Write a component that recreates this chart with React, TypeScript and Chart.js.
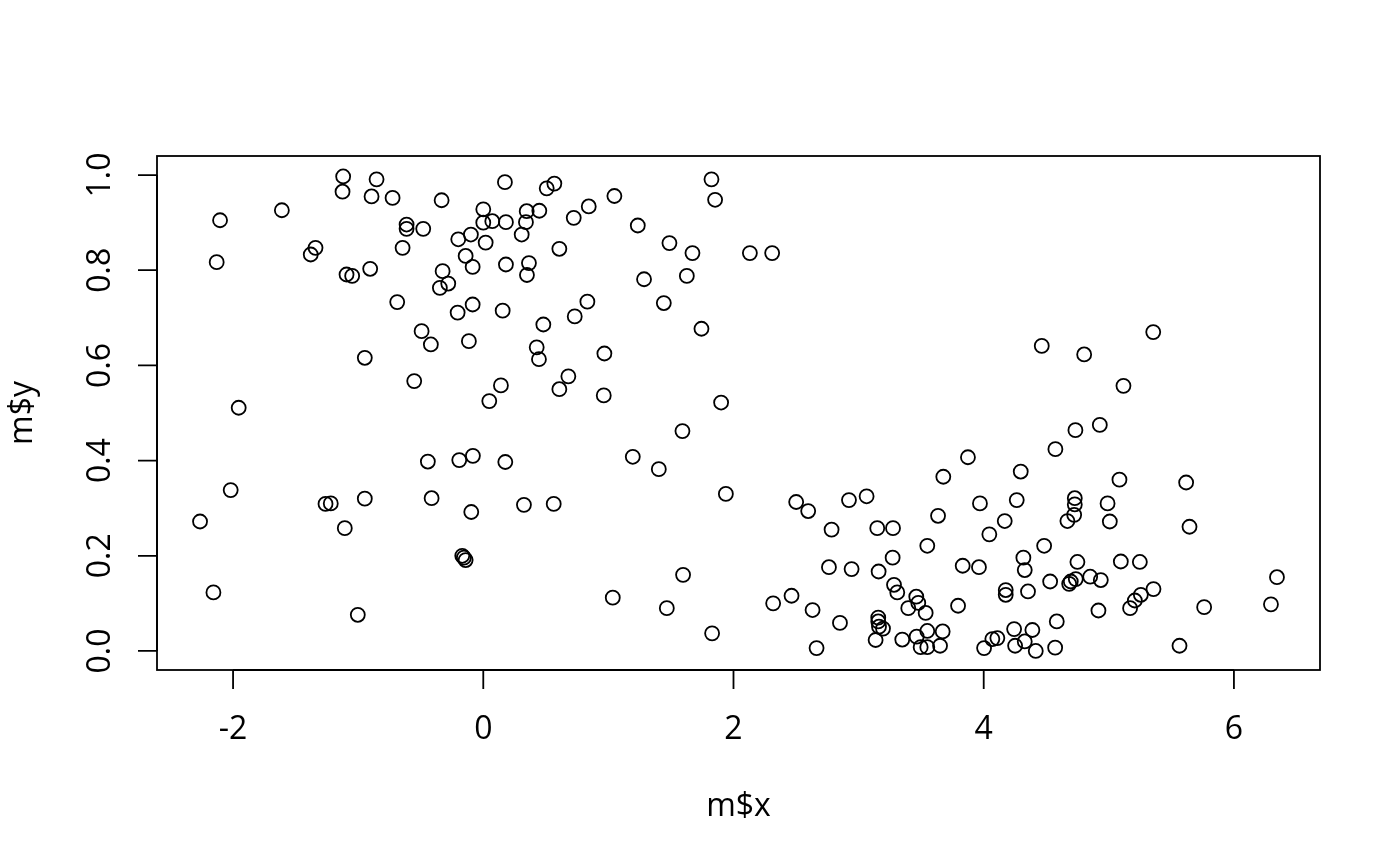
import React, { useEffect, useRef } from "react";
import { Chart, registerables } from "chart.js";

Chart.register(...registerables);

const xValues: number[] = [
  -1.12, -0.853, -1.125, -0.893, -0.725, -0.333, 0.173, 0.507, 0.568, -2.104,
  -1.61, 0.0, 0.347, 0.448, -0.613, -0.613, -0.48, 0.0, 0.072, 0.181,
  0.341, 0.307, -0.099, -0.2, 0.019, -0.645, 0.608, -1.341, -1.379, -2.131,
  -0.141, -0.085, 0.181, 0.365, 0.349, -1.093, -1.048, -0.904, -0.325, -0.28,
  -0.347, -0.688, -0.493, -0.419, -0.205, -0.085, 0.155, 0.48, -0.115, 0.427,
  0.445, -0.947, -0.552, 0.141, 0.048, -1.955,
  0.843, 0.723, 1.048, 1.824, 1.853, 1.235, 1.488, 1.672, 2.131, 2.309,
  1.285, 1.627, 0.832, 0.731, 1.443, 1.744, 0.968, 0.68, 0.608, 0.963, 1.901,
  -0.443, -0.192, -0.083, 0.176, -2.019, -2.264, -1.261, -1.219, -0.947, -0.413,
  -0.096, 0.325, 0.563, -1.107, -0.168, -0.141, -0.155, -2.157, -1.003,
  1.592, 1.195, 1.403, 1.939, 2.501, 2.597, 2.923, 3.064, 2.784, 3.149,
  3.275, 3.677, 3.635, 3.549, 3.272, 2.763, 2.944, 3.16, 1.597, 1.035,
  1.467, 1.829, 2.317, 2.464, 2.632, 2.851, 2.664, 3.283, 3.309, 3.461,
  3.477, 3.397, 3.536, 3.157, 3.157, 3.163, 3.195, 3.136, 3.349, 3.464,
  3.549, 3.672, 3.496, 3.549, 3.651,
  5.355, 4.464, 4.803, 5.117, 4.928, 4.733, 4.573, 3.874, 4.296, 5.085,
  5.618, 3.97, 4.264, 4.728, 4.728, 4.99, 4.723, 4.669, 5.008, 4.168,
  4.045, 5.645, 4.483, 3.832, 3.962, 4.317, 4.328, 4.749, 5.096, 5.248,
  6.344, 6.296, 5.762, 5.565, 4.531, 4.683, 4.696, 4.736, 4.851, 4.936,
  5.357, 5.256, 5.208, 5.17, 4.917, 4.176, 4.176, 4.354, 3.795, 4.584,
  4.243, 4.389, 4.069, 4.109, 4.003, 4.251, 4.328, 4.416, 4.571,
];

const yValues: number[] = [
  0.997, 0.991, 0.965, 0.955, 0.952, 0.947, 0.985, 0.972, 0.982, 0.905,
  0.926, 0.928, 0.924, 0.925, 0.896, 0.887, 0.887, 0.9, 0.903, 0.901,
  0.901, 0.875, 0.875, 0.865, 0.858, 0.847, 0.845, 0.847, 0.833, 0.817,
  0.83, 0.807, 0.812, 0.815, 0.79, 0.791, 0.788, 0.803, 0.798, 0.772,
  0.763, 0.733, 0.672, 0.644, 0.711, 0.728, 0.715, 0.686, 0.651, 0.638,
  0.613, 0.616, 0.567, 0.558, 0.525, 0.511,
  0.934, 0.91, 0.956, 0.991, 0.948, 0.894, 0.857, 0.836, 0.836, 0.836,
  0.781, 0.788, 0.734, 0.703, 0.731, 0.677, 0.625, 0.577, 0.55, 0.537, 0.522,
  0.398, 0.401, 0.41, 0.397, 0.338, 0.272, 0.309, 0.31, 0.32, 0.321,
  0.292, 0.307, 0.309, 0.258, 0.2, 0.191, 0.196, 0.123, 0.076,
  0.462, 0.408, 0.382, 0.33, 0.313, 0.294, 0.317, 0.325, 0.255, 0.258,
  0.258, 0.366, 0.284, 0.221, 0.196, 0.176, 0.172, 0.167, 0.16, 0.112,
  0.09, 0.037, 0.1, 0.116, 0.086, 0.059, 0.006, 0.139, 0.123, 0.114,
  0.101, 0.09, 0.08, 0.07, 0.062, 0.051, 0.047, 0.023, 0.024, 0.03,
  0.042, 0.041, 0.008, 0.008, 0.011,
  0.67, 0.641, 0.623, 0.557, 0.475, 0.464, 0.424, 0.407, 0.377, 0.36,
  0.354, 0.31, 0.317, 0.321, 0.308, 0.31, 0.286, 0.273, 0.272, 0.273,
  0.245, 0.261, 0.221, 0.179, 0.176, 0.196, 0.17, 0.187, 0.188, 0.187,
  0.155, 0.098, 0.092, 0.011, 0.146, 0.141, 0.146, 0.151, 0.156, 0.149,
  0.13, 0.118, 0.106, 0.09, 0.085, 0.128, 0.118, 0.125, 0.095, 0.062,
  0.046, 0.044, 0.025, 0.027, 0.006, 0.011, 0.02, 0.0, 0.007,
];

const xTicks: number[] = [-2, 0, 2, 4, 6];
const xTickLabels: string[] = ["-2", "0", "2", "4", "6"];
const yTicks: number[] = [0, 0.2, 0.4, 0.6, 0.8, 1.0];
const yTickLabels: string[] = ["0.0", "0.2", "0.4", "0.6", "0.8", "1.0"];
const xTitle = "m$x";
const yTitle = "m$y";

const FONT = '32px "Open Sans", "Noto Sans", sans-serif';

const axesPlugin = {
  id: "rAxes",
  afterDraw(chart: any) {
    const ctx = chart.ctx as CanvasRenderingContext2D;
    const area = chart.chartArea;
    const xs = chart.scales.x;
    const ys = chart.scales.y;
    ctx.save();
    ctx.strokeStyle = "#000";
    ctx.fillStyle = "#000";
    ctx.lineWidth = 1.8;
    // box
    ctx.strokeRect(area.left, area.top, area.right - area.left, area.bottom - area.top);
    const tickLen = 19;
    // x axis
    const x0 = xs.getPixelForValue(xTicks[0]);
    const x1 = xs.getPixelForValue(xTicks[xTicks.length - 1]);
    ctx.beginPath();
    ctx.moveTo(x0, area.bottom);
    ctx.lineTo(x1, area.bottom);
    xTicks.forEach((t) => {
      const px = xs.getPixelForValue(t);
      ctx.moveTo(px, area.bottom);
      ctx.lineTo(px, area.bottom + tickLen);
    });
    // y axis
    const y0 = ys.getPixelForValue(yTicks[0]);
    const y1 = ys.getPixelForValue(yTicks[yTicks.length - 1]);
    ctx.moveTo(area.left, y0);
    ctx.lineTo(area.left, y1);
    yTicks.forEach((t) => {
      const py = ys.getPixelForValue(t);
      ctx.moveTo(area.left, py);
      ctx.lineTo(area.left - tickLen, py);
    });
    ctx.stroke();

    ctx.font = FONT;
    ctx.textAlign = "center";
    ctx.textBaseline = "alphabetic";
    xTicks.forEach((t, i) => {
      const px = xs.getPixelForValue(t);
      ctx.fillText(xTickLabels[i], px, area.bottom + 69);
    });
    yTicks.forEach((t, i) => {
      const py = ys.getPixelForValue(t);
      ctx.save();
      ctx.translate(area.left - 47, py);
      ctx.rotate(-Math.PI / 2);
      ctx.fillText(yTickLabels[i], 0, 0);
      ctx.restore();
    });
    // titles
    ctx.fillText(xTitle, (area.left + area.right) / 2, area.bottom + 146);
    ctx.save();
    ctx.translate(32, (area.top + area.bottom) / 2);
    ctx.rotate(-Math.PI / 2);
    ctx.fillText(yTitle, 0, 0);
    ctx.restore();
    ctx.restore();
  },
};

export default function App() {
  const canvasRef = useRef<HTMLCanvasElement | null>(null);

  useEffect(() => {
    if (!canvasRef.current) return;
    const points = xValues.map((x, i) => ({ x, y: yValues[i] }));
    const chart = new Chart(canvasRef.current, {
      type: "scatter",
      data: {
        datasets: [
          {
            data: points,
            pointStyle: "circle",
            pointRadius: 7,
            pointBorderWidth: 1.8,
            borderColor: "#000",
            backgroundColor: "rgba(0,0,0,0)",
            showLine: false,
          },
        ],
      },
      options: {
        responsive: false,
        animation: false,
        devicePixelRatio: 1,
        events: [],
        layout: { padding: { left: 157, right: 80, top: 156, bottom: 196 } },
        plugins: { legend: { display: false }, tooltip: { enabled: false } },
        scales: {
          x: { type: "linear", min: -2.608, max: 6.688, display: false },
          y: { type: "linear", min: -0.04, max: 1.04, display: false },
        },
      },
      plugins: [axesPlugin],
    });
    return () => chart.destroy();
  }, []);

  return (
    <div style={{ position: "absolute", left: 0, top: 0, width: 1400, height: 866, background: "#fff" }}>
      <canvas ref={canvasRef} width={1400} height={866} style={{ display: "block" }} />
    </div>
  );
}
